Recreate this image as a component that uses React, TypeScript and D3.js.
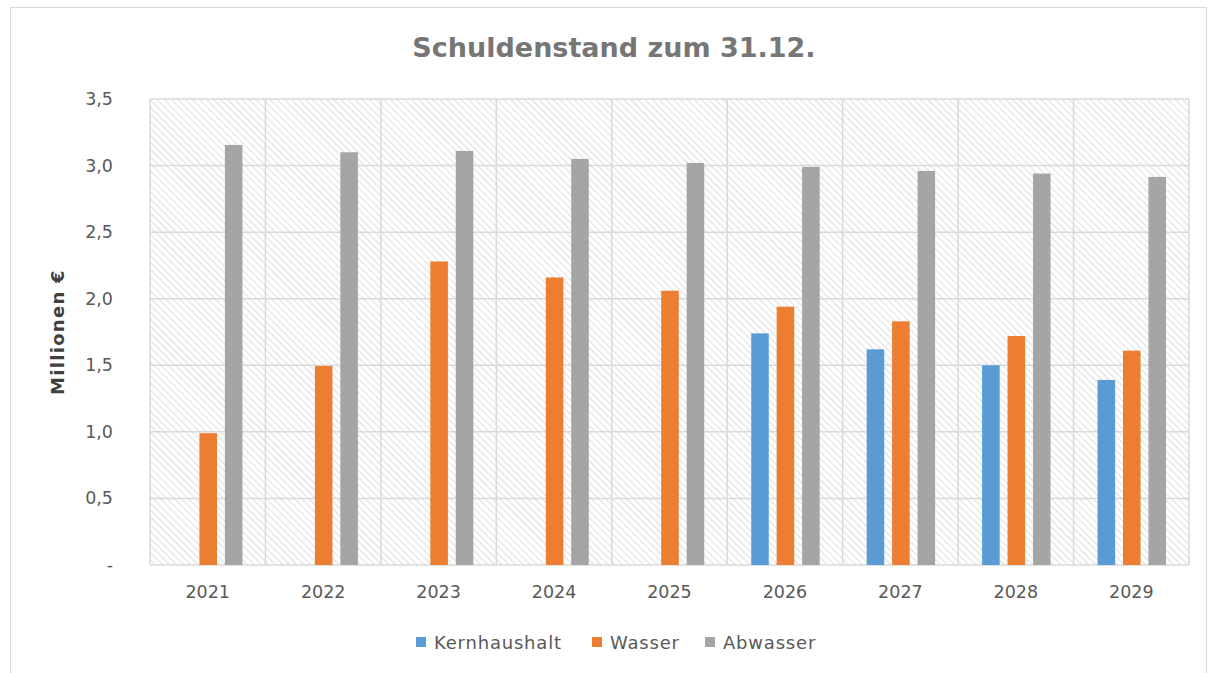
import React from "react";
import * as d3 from "d3";

const years = ["2021", "2022", "2023", "2024", "2025", "2026", "2027", "2028", "2029"];
const kernhaushalt = [null, null, null, null, null, 1.74, 1.62, 1.5, 1.39];
const wasser = [0.99, 1.495, 2.28, 2.16, 2.06, 1.94, 1.83, 1.72, 1.61];
const abwasser = [3.155, 3.1, 3.11, 3.05, 3.02, 2.99, 2.96, 2.94, 2.915];
const seriesNames = ["Kernhaushalt", "Wasser", "Abwasser"];
const seriesColors = ["#5b9bd5", "#ed7d31", "#a5a5a5"];
const yTicks = [0, 0.5, 1, 1.5, 2, 2.5, 3, 3.5];
const yTickLabels = ["-", "0,5", "1,0", "1,5", "2,0", "2,5", "3,0", "3,5"];

const W = 1215;
const H = 673;
const FONT = "'DejaVu Sans', sans-serif";

export default function App() {
  const left = 150, right = 1189, top = 99, bottom = 565;
  const x = d3.scaleBand<string>().domain(years).range([left, right]).paddingInner(0).paddingOuter(0);
  const y = d3.scaleLinear().domain([0, 3.5]).range([bottom, top]);
  const inner = d3.scaleBand<string>().domain(seriesNames).range([24, x.bandwidth() - 23]).paddingInner(0.31).paddingOuter(0);
  const data = [kernhaushalt, wasser, abwasser];

  return (
    <svg width={W} height={H} style={{ position: "absolute", left: 0, top: 0 }}>
      <defs>
        <pattern id="hatch" patternUnits="userSpaceOnUse" width="5" height="5" patternTransform="rotate(-45)">
          <rect width="5" height="5" fill="#ffffff" />
          <line x1="0" y1="0" x2="0" y2="5" stroke="#e2e2e2" strokeWidth="2.4" />
        </pattern>
      </defs>
      <rect x={0} y={0} width={W} height={H} fill="#fff" />
      <rect x={10.5} y={7.5} width={1196} height={700} fill="#fff" stroke="#d9d9d9" strokeWidth={1} />
      <text x={614} y={57} textAnchor="middle" fontFamily={FONT} fontWeight="bold" fontSize={27} fill="#767676">
        Schuldenstand zum 31.12.
      </text>
      <rect x={left} y={top} width={right - left} height={bottom - top} fill="url(#hatch)" />
      {yTicks.map((t) => (
        <line key={"g" + t} x1={left} x2={right} y1={y(t)} y2={y(t)} stroke="#d9d9d9" strokeWidth={1.5} />
      ))}
      {years.map((yr) => (
        <line key={"v" + yr} x1={x(yr)!} x2={x(yr)!} y1={top} y2={bottom} stroke="#d9d9d9" strokeWidth={1.5} />
      ))}
      <line x1={right} x2={right} y1={top} y2={bottom} stroke="#d9d9d9" strokeWidth={1.5} />
      {data.map((vals, si) =>
        vals.map((v, i) =>
          v == null ? null : (
            <rect
              key={si + "-" + i}
              x={x(years[i])! + inner(seriesNames[si])!}
              y={y(v)}
              width={inner.bandwidth()}
              height={y(0) - y(v)}
              fill={seriesColors[si]}
            />
          )
        )
      )}
      {yTicks.map((t, i) => (
        <text key={"t" + t} x={113} y={y(t) + 6} textAnchor="end" fontFamily={FONT} fontSize={17.5} fill="#595959">
          {yTickLabels[i]}
        </text>
      ))}
      {years.map((yr) => (
        <text key={"x" + yr} x={x(yr)! + x.bandwidth() / 2} y={598} textAnchor="middle" fontFamily={FONT} fontSize={17.5} fill="#595959">
          {yr}
        </text>
      ))}
      <text
        transform={`translate(64,${(top + bottom) / 2}) rotate(-90)`}
        textAnchor="middle"
        fontFamily={FONT}
        fontWeight="bold"
        fontSize={18}
        letterSpacing={1.3}
        fill="#404040"
      >
        Millionen €
      </text>
      {[416, 592, 705].map((lx, i) => (
        <g key={"l" + i}>
          <rect x={lx} y={637} width={10} height={10} fill={seriesColors[i]} />
          <text x={lx + 18} y={649} fontFamily={FONT} fontSize={18} letterSpacing={0.8} fill="#595959">
            {seriesNames[i]}
          </text>
        </g>
      ))}
    </svg>
  );
}
